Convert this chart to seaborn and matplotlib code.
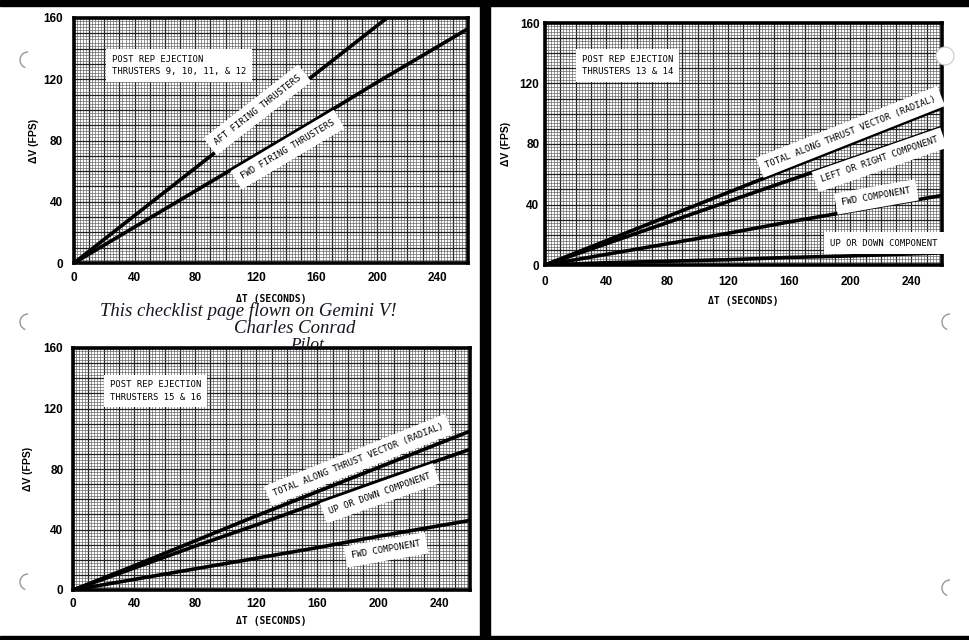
import numpy as np
import pandas as pd
import matplotlib
matplotlib.use('Agg')
import matplotlib.pyplot as plt
from matplotlib.ticker import MultipleLocator, FuncFormatter
from matplotlib.patches import Arc, Circle
import seaborn as sns

# Zaman ekseni (saniye) ve okunan Delta-V değerleri (FPS)
time_s = [0, 40, 80, 120, 160, 200, 260]

aft_9_12 = [0, 31, 62, 93, 124, 155, 201]
fwd_9_12 = [0, 23.5, 47, 70.5, 94, 118, 153]

total_13_14 = [0, 16, 32, 48, 64, 80, 104]
left_right_13_14 = [0, 14, 28, 42, 56, 70, 91]
fwd_13_14 = [0, 7, 14, 21, 28.5, 35.5, 46]
up_down_13_14 = [0, 1.5, 2.5, 3.5, 5, 6, 8]

total_15_16 = [0, 16, 32.5, 49, 65, 81, 105]
up_down_15_16 = [0, 14.5, 29, 43, 57.5, 72, 93]
fwd_15_16 = [0, 7, 14, 21, 28, 35.5, 46]

titles = ['POST REP EJECTION\nTHRUSTERS 9, 10, 11, & 12',
          'POST REP EJECTION\nTHRUSTERS 13 & 14',
          'POST REP EJECTION\nTHRUSTERS 15 & 16']

sns.set_style('white')
plt.rcParams['font.family'] = ['DejaVu Sans']
plt.rcParams['text.color'] = 'black'
plt.rcParams['axes.labelcolor'] = 'black'
plt.rcParams['xtick.color'] = 'black'
plt.rcParams['ytick.color'] = 'black'

sans = ['Liberation Sans', 'DejaVu Sans']
mono = ['DejaVu Sans Mono']

fig = plt.figure(figsize=(9.7, 6.4), dpi=100, facecolor='white')

# Arka plan: taranmış sayfanın siyah kenarları
bg = fig.add_axes([0, 0, 1, 1], zorder=0)
bg.set_xlim(0, 970)
bg.set_ylim(640, 0)
bg.axis('off')
bg.axvspan(480, 490, color='black')
bg.axhspan(0, 6, color='black')
bg.axhspan(636, 640, color='black')


def draw_chart(rect, series, labels, title, title_pos, pads):
    xpad, ypad, xlabpad, ylabpad = pads
    ax = fig.add_axes(rect, zorder=2)
    ax.set_xlim(0, 260)
    ax.set_ylim(0, 160)
    for vals in series:
        sns.lineplot(x=time_s, y=vals, color='black', linewidth=2.6, ax=ax,
                     zorder=3, solid_capstyle='butt')
    ax.xaxis.set_major_locator(MultipleLocator(10))
    ax.yaxis.set_major_locator(MultipleLocator(10))
    ax.xaxis.set_minor_locator(MultipleLocator(2))
    ax.yaxis.set_minor_locator(MultipleLocator(2))
    fmt = FuncFormatter(lambda v, p: f'{v:.0f}' if v % 40 == 0 and v <= 240 else '')
    ax.xaxis.set_major_formatter(fmt)
    ax.yaxis.set_major_formatter(fmt)
    ax.grid(which='major', color='#202020', linewidth=0.9)
    ax.grid(which='minor', color='#5a5a5a', linewidth=0.45)
    ax.set_axisbelow(True)
    ax.tick_params(which='both', length=0)
    ax.tick_params(axis='x', pad=xpad)
    ax.tick_params(axis='y', pad=ypad)
    for lab in ax.get_xticklabels() + ax.get_yticklabels():
        lab.set_family(sans)
        lab.set_fontweight('bold')
        lab.set_fontsize(8.5)
        lab.set_color('black')
    for sp in ax.spines.values():
        sp.set_linewidth(2.6)
        sp.set_color('black')
    ax.set_xlabel('ΔT (SECONDS)', family=mono, fontweight='bold', fontsize=7, labelpad=xlabpad)
    ax.set_ylabel('ΔV (FPS)', family=sans, fontweight='bold', fontsize=7.5, labelpad=ylabpad)

    ax.text(title_pos[0], title_pos[1], title, family=mono, fontsize=6.4, color='black',
            va='center', ha='left', linespacing=1.5, zorder=5,
            bbox=dict(facecolor='white', edgecolor='none', pad=4))

    for text, vals, (tx, ty), flat in labels:
        slope = (vals[-1] - vals[0]) / (time_s[-1] - time_s[0])
        ang = 0 if flat else np.degrees(np.arctan(slope))
        rot = ax.transData.transform_angles(np.array([ang]), np.array([[tx, ty]]))[0]
        ax.text(tx, ty, text, family=mono, fontsize=6.4, rotation=rot, color='black',
                rotation_mode='anchor', ha='center', va='center', zorder=6,
                bbox=dict(facecolor='white', edgecolor='none', pad=4.5))
    return ax


draw_chart([74 / 970, 1 - 263 / 640, 394 / 970, 245 / 640],
           [aft_9_12, fwd_9_12],
           [('AFT FIRING THRUSTERS', aft_9_12, (121, 100), False),
            ('FWD FIRING THRUSTERS', fwd_9_12, (141, 74), False)],
           titles[0], (25, 129), (6.5, 8, 7, 3))

draw_chart([545 / 970, 1 - 265 / 640, 397 / 970, 242 / 640],
           [total_13_14, left_right_13_14, fwd_13_14, up_down_13_14],
           [('TOTAL ALONG THRUST VECTOR (RADIAL)', total_13_14, (200, 88), False),
            ('LEFT OR RIGHT COMPONENT', left_right_13_14, (219, 69.5), False),
            ('FWD COMPONENT', fwd_13_14, (217, 45), False),
            ('UP OR DOWN COMPONENT', up_down_13_14, (222, 14.5), True)],
           titles[1], (24, 132), (8, 4, 5.5, 6))

draw_chart([73 / 970, 1 - 590 / 640, 397 / 970, 242 / 640],
           [total_15_16, up_down_15_16, fwd_15_16],
           [('TOTAL ALONG THRUST VECTOR (RADIAL)', total_15_16, (187, 86), False),
            ('UP OR DOWN COMPONENT', up_down_15_16, (201, 64), False),
            ('FWD COMPONENT', fwd_15_16, (205, 26.5), False)],
           titles[2], (24, 131.5), (6, 7, 4.3, 7.5))

# Ön plan: el yazısı not ve cilt delikleri
fg = fig.add_axes([0, 0, 1, 1], zorder=10)
fg.set_xlim(0, 970)
fg.set_ylim(640, 0)
fg.axis('off')
fg.patch.set_alpha(0)
fg.text(100, 316, 'This checklist page flown on Gemini V!', family='Liberation Serif',
        fontstyle='italic', fontsize=13.5, color='#15151f')
fg.text(234, 333, 'Charles Conrad', family='Liberation Serif',
        fontstyle='italic', fontsize=13.5, color='#15151f')
fg.text(290, 349, 'Pilot', family='Liberation Serif',
        fontstyle='italic', fontsize=12.5, color='#15151f')

for y in [60, 322, 582]:
    fg.add_patch(Arc((28, y), 16, 16, theta1=110, theta2=270, color='#9a9a8a', lw=1.0))
for y in [322, 588]:
    fg.add_patch(Arc((950, y), 16, 16, theta1=110, theta2=270, color='#9a9a8a', lw=1.0))
fg.add_patch(Circle((945, 56), 9, facecolor='white', edgecolor='#c8c8c0', lw=0.8))

fig.savefig('out.png', dpi=100, facecolor='white')
